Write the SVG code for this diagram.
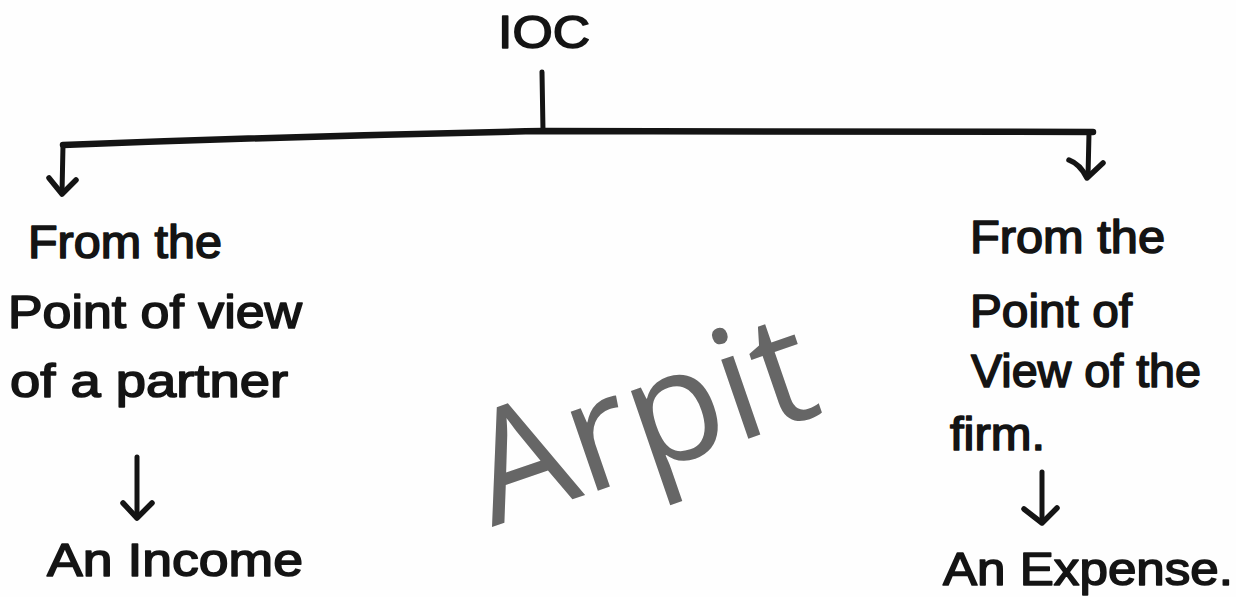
<svg xmlns="http://www.w3.org/2000/svg" width="1236" height="597" viewBox="0 0 1236 597">
  <style>
    .hand { font-family: "Liberation Sans", "DejaVu Sans", sans-serif; font-size: 46px; fill: #141414; stroke: #141414; stroke-width: 1.6; stroke-linejoin: round; }
    .wire { fill: none; stroke: #141414; stroke-linecap: round; stroke-linejoin: round; }
    .mark { font-family: "Open Sans", "Noto Sans", sans-serif; font-size: 156px; fill: #666666; }
  </style>

  <rect width="1236" height="597" fill="#fefefe"/>

  <!-- watermark across the middle -->
  <g id="watermark">
    <text class="mark" transform="translate(492,527) rotate(-19)" x="0" y="0">Arpit</text>
  </g>

  <!-- tree lines and arrows -->
  <g id="connectors" class="wire">
    <path d="M542,72 L543,131" stroke-width="5"/>
    <path d="M63,145 Q300,136 543,131 L1093,132" stroke-width="6.5"/>
    <path d="M63,145 L62,193" stroke-width="5"/>
    <path d="M49,178 L62,194 L76,180" stroke-width="5.5"/>
    <path d="M1089,133 L1088,177" stroke-width="5"/>
    <path d="M1069,160 Q1080,164 1087,178 L1103,163" stroke-width="5.5"/>
    <path d="M137,457 L137,517" stroke-width="5"/>
    <path d="M123,503 L137,518 L152,503" stroke-width="5.5"/>
    <path d="M1042,472 L1042,522" stroke-width="5"/>
    <path d="M1024,509 L1042,523 L1057,508" stroke-width="5.5"/>
  </g>

  <g id="root-ioc">
    <text class="hand" x="498" y="48" textLength="92" lengthAdjust="spacingAndGlyphs">IOC</text>
  </g>

  <g id="partner-view">
    <text class="hand" x="28" y="258" textLength="194" lengthAdjust="spacingAndGlyphs">From the</text>
    <text class="hand" x="8" y="328" textLength="294" lengthAdjust="spacingAndGlyphs">Point of view</text>
    <text class="hand" x="10" y="397" textLength="278" lengthAdjust="spacingAndGlyphs">of a partner</text>
  </g>

  <g id="firm-view">
    <text class="hand" x="970" y="253" textLength="195" lengthAdjust="spacingAndGlyphs">From the</text>
    <text class="hand" x="970" y="327" textLength="162" lengthAdjust="spacingAndGlyphs">Point of</text>
    <text class="hand" x="971" y="387" textLength="230" lengthAdjust="spacingAndGlyphs">View of the</text>
    <text class="hand" x="950" y="450" textLength="95" lengthAdjust="spacingAndGlyphs">firm.</text>
  </g>

  <g id="income">
    <text class="hand" x="47" y="576" textLength="256" lengthAdjust="spacingAndGlyphs">An Income</text>
  </g>

  <g id="expense">
    <text class="hand" x="943" y="585" textLength="290" lengthAdjust="spacingAndGlyphs">An Expense.</text>
  </g>
</svg>
